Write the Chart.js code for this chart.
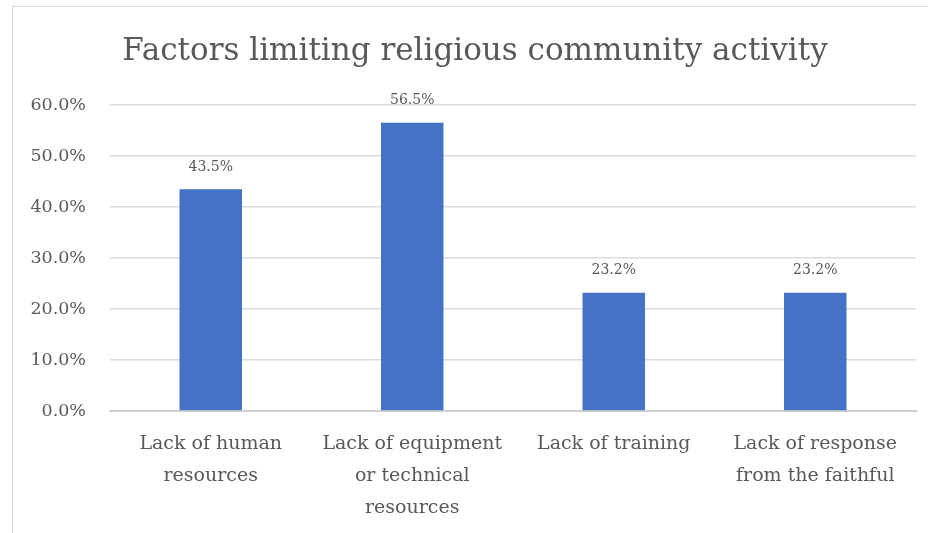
<!DOCTYPE html>
<html>
<head>
<meta charset="utf-8">
<script src="https://cdn.jsdelivr.net/npm/chart.js@4/dist/chart.umd.min.js"></script>
<style>
  body { margin: 0; background: #fff; }
  #wrap { position: relative; width: 928px; height: 533px; }
  #frame { position: absolute; left: 12px; top: 6px; right: -2px; bottom: -2px; border: 1px solid #d9d9d9; }
  canvas { position: absolute; left: 0; top: 0; }
</style>
</head>
<body>
<div id="wrap">
  <div id="frame"></div>
  <canvas id="chart" width="928" height="533"></canvas>
</div>
<script>
// Data
const chartTitle = 'Factors limiting religious community activity';
const categories = [
    ['Lack of human', 'resources'],
    ['Lack of equipment', 'or technical', 'resources'],
    'Lack of training',
    ['Lack of response', 'from the faithful']
];
const shares = [43.5, 56.5, 23.2, 23.2];
const yMax = 60;
const yStep = 10;

const serif = '"DejaVu Serif", "Liberation Serif", serif';
const grey = '#595959';

// title (centred a bit right of the canvas centre, like the original) and value labels
const decorations = {
    id: 'decorations',
    afterDatasetsDraw(chart) {
        const ctx = chart.ctx;
        const meta = chart.getDatasetMeta(0);
        ctx.save();
        ctx.fillStyle = grey;
        ctx.textAlign = 'center';
        ctx.textBaseline = 'middle';
        ctx.font = '31px ' + serif;
        ctx.fillText(chartTitle, 475, 52);
        ctx.font = '14px ' + serif;
        meta.data.forEach((bar, idx) => {
            ctx.fillText(shares[idx].toFixed(1) + '%', bar.x, bar.y - 22);
        });
        ctx.restore();
    }
};

const ctx = document.getElementById('chart').getContext('2d');
new Chart(ctx, {
    type: 'bar',
    data: {
        labels: categories,
        datasets: [{
            data: shares,
            backgroundColor: '#4472C4',
            barPercentage: 0.31,
            categoryPercentage: 1
        }]
    },
    options: {
        responsive: false,
        animation: false,
        layout: { padding: { top: 105, right: 12, left: 0, bottom: 0 } },
        plugins: {
            legend: { display: false },
            tooltip: { enabled: false },
            title: { display: false }
        },
        scales: {
            x: {
                grid: { display: false },
                border: { color: '#d0d0d0', width: 2 },
                ticks: {
                    color: grey,
                    font: { family: serif, size: 19, lineHeight: 1.68 },
                    padding: 9,
                    maxRotation: 0,
                    autoSkip: false
                },
                afterFit(scale) { scale.height = 122; }
            },
            y: {
                min: 0,
                max: yMax,
                grid: { color: '#dcdcdc', lineWidth: 1.5, drawTicks: false },
                border: { display: false },
                ticks: {
                    stepSize: yStep,
                    color: grey,
                    font: { family: serif, size: 17.5 },
                    padding: 24,
                    callback: v => v.toFixed(1) + '%'
                },
                afterFit(scale) { scale.width = 110; }
            }
        }
    },
    plugins: [decorations]
});
</script>
</body>
</html>
